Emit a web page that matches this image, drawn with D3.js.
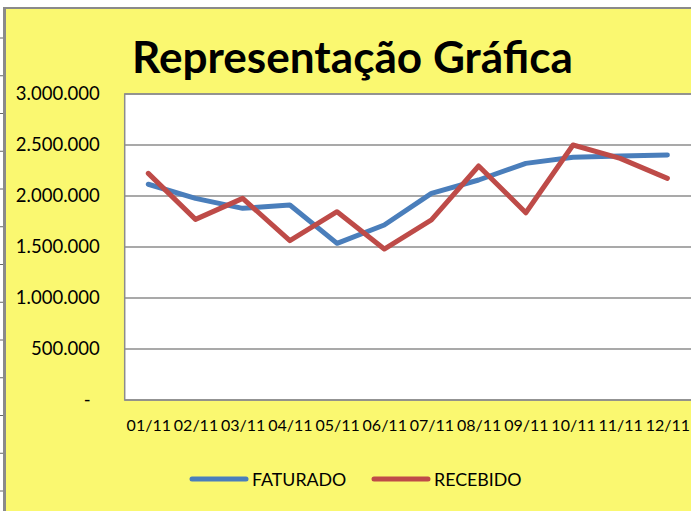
<!DOCTYPE html>
<html>
<head>
<meta charset="utf-8">
<script src="https://cdn.jsdelivr.net/npm/d3@7"></script>
<style>
  body { margin: 0; background: #fff; }
  svg { display: block; font-family: Lato, "Noto Sans", sans-serif; }
</style>
</head>
<body>
<div id="chart"></div>
<script>
//months on the x axis
const months = ['01/11','02/11','03/11','04/11','05/11','06/11','07/11','08/11','09/11','10/11','11/11','12/11']
//series values
const faturado = [2115000, 1977000, 1879000, 1912000, 1536000, 1716000, 2026000, 2157000, 2320000, 2379000, 2392000, 2402000]
const recebido = [2222000, 1771000, 1977000, 1562000, 1846000, 1480000, 1765000, 2294000, 1836000, 2500000, 2369000, 2173000]
const seriesNames = ['FATURADO', 'RECEBIDO']
const yTicks = [0, 500000, 1000000, 1500000, 2000000, 2500000, 3000000]

const W = 691, H = 511
const margin = {top: 94, right: 0, bottom: 111, left: 124.7}
const colors = {FATURADO: '#4a7ebb', RECEBIDO: '#be4b48'}

const svg = d3.select('#chart').append('svg')
  .attr('width', W)
  .attr('height', H)

//spreadsheet frame + yellow chart background
svg.append('rect').attr('x', 3).attr('y', 7).attr('width', W).attr('height', H)
  .attr('fill', '#8a8a8a')
svg.append('rect').attr('x', 6).attr('y', 9).attr('width', W).attr('height', H)
  .attr('fill', '#faf870')
svg.selectAll('line.row')
  .data(d3.range(38, H, 37.75))
  .join('line')
    .attr('class', 'row')
    .attr('x1', 0).attr('x2', 3)
    .attr('y1', d => d).attr('y2', d => d)
    .attr('stroke', '#666')

//scales
const x = d3.scalePoint()
  .domain(months)
  .range([margin.left, W - margin.right])
  .padding(0.5)

const y = d3.scaleLinear()
  .domain([0, 3000000])
  .range([H - margin.bottom, margin.top])

//plot area
svg.append('rect')
  .attr('x', margin.left).attr('y', margin.top)
  .attr('width', W - margin.left + 5)
  .attr('height', y(0) - margin.top)
  .attr('fill', '#fff')
  .attr('stroke', '#8c8c8c')
  .attr('stroke-width', 1.5)

//gridlines
svg.append('g')
  .selectAll('line')
  .data(yTicks)
  .join('line')
    .attr('x1', margin.left).attr('x2', W)
    .attr('y1', d => y(d)).attr('y2', d => y(d))
    .attr('stroke', '#8c8c8c')
    .attr('stroke-width', 1.5)

//y axis labels, excel accounting style
const ptBR = d3.formatLocale({decimal: ',', thousands: '.', grouping: [3], currency: ['R$', '']})
const fmt = ptBR.format(',.0f')
const yAxis = svg.append('g')
  .attr('transform', `translate(${margin.left - 25}, 0)`)
  .call(d3.axisLeft(y).tickValues(yTicks).tickSize(0).tickPadding(0)
    .tickFormat(d => d === 0 ? '-' : fmt(d)))
yAxis.select('.domain').remove()
yAxis.selectAll('text')
  .attr('font-family', 'Lato, sans-serif')
  .attr('font-size', 18.5)
  .attr('fill', '#000')
  .attr('dx', d => d === 0 ? -9 : 0)

//x axis labels
const xAxis = svg.append('g')
  .attr('transform', `translate(0, ${y(0)})`)
  .call(d3.axisBottom(x).tickSize(0).tickPadding(0))
xAxis.select('.domain').remove()
xAxis.selectAll('text')
  .attr('font-family', 'Lato, sans-serif')
  .attr('font-size', 16)
  .attr('fill', '#000')
  .attr('dy', null)
  .attr('y', 31)

//lines
const line = d3.line()
  .x((d, i) => x(months[i]))
  .y(d => y(d))

const plot = svg.append('g')
plot.append('path')
  .datum(faturado)
  .attr('d', line)
  .attr('fill', 'none')
  .attr('stroke', colors.FATURADO)
  .attr('stroke-width', 5)
  .attr('stroke-linejoin', 'round')
  .attr('stroke-linecap', 'round')
plot.append('path')
  .datum(recebido)
  .attr('d', line)
  .attr('fill', 'none')
  .attr('stroke', colors.RECEBIDO)
  .attr('stroke-width', 5)
  .attr('stroke-linejoin', 'round')
  .attr('stroke-linecap', 'round')

//title, scaled to span the same width as the original
const title = svg.append('text')
  .attr('x', 132)
  .attr('y', 73)
  .attr('font-family', 'Lato, sans-serif')
  .attr('font-weight', 'bold')
  .attr('font-size', 40)
  .attr('fill', '#000')
  .text('Representação Gráfica')
const tw = title.node().getComputedTextLength()
title.attr('font-size', 40 * 441 / tw)

//legend
const legendX = [192, 374]
const legend = svg.append('g')
  .selectAll('g')
  .data(seriesNames)
  .join('g')
    .attr('transform', (d, i) => `translate(${legendX[i]}, 479)`)
legend.append('line')
  .attr('x1', 0).attr('x2', 54)
  .attr('stroke', d => colors[d])
  .attr('stroke-width', 5)
  .attr('stroke-linecap', 'round')
legend.append('text')
  .attr('x', 60)
  .attr('y', 6.5)
  .attr('font-family', 'Lato, sans-serif')
  .attr('font-size', 17.8)
  .attr('fill', '#000')
  .text(d => d)
</script>
</body>
</html>
